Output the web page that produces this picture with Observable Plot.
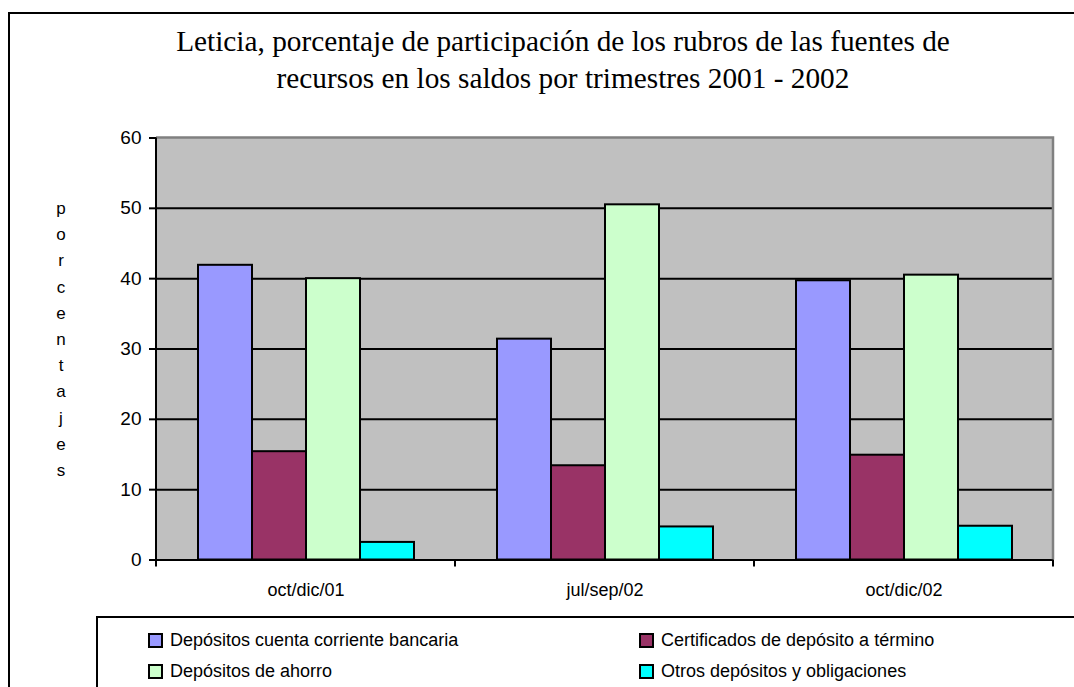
<!DOCTYPE html>
<html>
<head>
<meta charset="utf-8">
<script src="https://cdn.jsdelivr.net/npm/d3@7"></script>
<script src="https://cdn.jsdelivr.net/npm/@observablehq/plot@0.6"></script>
<style>
  html, body { margin: 0; padding: 0; background: #fff; }
  #page { position: relative; width: 1074px; height: 687px; overflow: hidden; background: #fff; }
  #outer { position: absolute; left: 8px; top: 12px; width: 2000px; height: 2000px; border: 2.5px solid #000; box-sizing: border-box; }
  #title { position: absolute; left: 13px; width: 1100px; top: 23px; text-align: center;
           font-family: "Liberation Serif", "Times New Roman", serif; font-size: 29.3px; line-height: 37px; color: #000; }
  #ylabel { position: absolute; left: 46px; width: 30px; top: 196px; text-align: center;
            font-family: "Liberation Sans", Arial, sans-serif; font-size: 17px; line-height: 26.2px; color: #000; }
  #chart { position: absolute; left: 0; top: 100px; }
  #legend { position: absolute; left: 96px; top: 616px; width: 2000px; height: 200px; border: 2px solid #000; box-sizing: border-box; background: #fff; }
  .sw { position: absolute; width: 15px; height: 15px; border: 2px solid #000; box-sizing: border-box; }
  .lt { position: absolute; font-family: "Liberation Sans", Arial, sans-serif; font-size: 18px; line-height: 20px; color: #000; white-space: nowrap; }
</style>
</head>
<body>
<div id="page">
  <div id="outer"></div>
  <div id="title"></div>
  <div id="ylabel"></div>
  <div id="chart"></div>
  <div id="legend"></div>
</div>
<script>
const titleLines = ["Leticia, porcentaje de participación de los rubros de las fuentes de",
                    "recursos en los saldos por trimestres 2001 - 2002"];
const yTitle = "porcentajes";
const quarters = ["oct/dic/01", "jul/sep/02", "oct/dic/02"];
const series = ["Depósitos cuenta corriente bancaria", "Certificados de depósito a término",
                "Depósitos de ahorro", "Otros depósitos y obligaciones"];
const cuentaCorriente = [41.9, 31.4, 39.7];
const certificados = [15.4, 13.4, 14.9];
const ahorro = [40.0, 50.5, 40.5];
const otros = [2.5, 4.7, 4.8];
const colors = ["#9999FF", "#993366", "#CCFFCC", "#00FFFF"];
const yTicks = [0, 10, 20, 30, 40, 50, 60];

const seriesValues = [cuentaCorriente, certificados, ahorro, otros];
const data = [];
quarters.forEach((q, i) => series.forEach((s, j) => data.push({quarter: q, series: s, value: seriesValues[j][i]})));

document.getElementById("title").innerHTML = titleLines.join("<br>");
document.getElementById("ylabel").innerHTML = yTitle.split("").join("<br>");

const chart = Plot.plot({
  width: 1074,
  height: 510,
  marginLeft: 155,
  marginRight: 21,
  marginTop: 37.5,
  marginBottom: 50.5,
  style: {fontFamily: "'Liberation Sans', Arial, sans-serif", fontSize: "18px", color: "#000", background: "transparent", overflow: "visible"},
  fx: {domain: quarters, padding: 0, label: null},
  x: {domain: series, paddingInner: 0, paddingOuter: 0.755, axis: null},
  y: {domain: [0, 60], label: null},
  color: {domain: series, range: colors},
  marks: [
    Plot.ruleY(yTicks.slice(1, -1), {stroke: "#000", strokeWidth: 2}),
    Plot.barY(data, {fx: "quarter", x: "series", y: "value", fill: "series", stroke: "#000", strokeWidth: 2}),
    Plot.ruleY([0], {stroke: "#000", strokeWidth: 2}),
    Plot.axisY({ticks: yTicks, tickSize: 7, tickPadding: 8, strokeWidth: 2, fontSize: 19, label: null}),
    Plot.axisFx({anchor: "bottom", tickSize: 0, tickPadding: 23, fontSize: 18, label: null})
  ]
});
document.getElementById("chart").appendChild(chart);

// Plot-area background, border and category boundary ticks, positioned through Plot's own scales
const fx = chart.scale("fx");
const ys = chart.scale("y");
const x0 = fx.apply(quarters[0]);
const x1 = fx.apply(quarters[quarters.length - 1]) + fx.bandwidth;
const yTop = ys.apply(d3.max(yTicks));
const yBot = ys.apply(0);
const svg = d3.select(chart);
svg.insert("rect", "g").attr("x", x0).attr("y", yTop).attr("width", x1 - x0).attr("height", yBot - yTop).attr("fill", "#C0C0C0");
svg.append("path").attr("d", `M${x0},${yTop}H${x1}V${yBot}`).attr("fill", "none").attr("stroke", "#808080").attr("stroke-width", 2.5);
svg.append("path").attr("d", `M${x0},${yTop}V${yBot}`).attr("stroke", "#000").attr("stroke-width", 2);
const bounds = quarters.map(q => fx.apply(q)).concat([x1]);
svg.selectAll("line.bt").data(bounds).join("line").attr("class", "bt")
  .attr("x1", d => d).attr("x2", d => d).attr("y1", yBot).attr("y2", yBot + 7)
  .attr("stroke", "#000").attr("stroke-width", 2);

// Legend
const legend = document.getElementById("legend");
const legPos = [[146, 631], [637, 631], [146, 662], [637, 662]];
series.forEach((s, i) => {
  const sw = document.createElement("div");
  sw.className = "sw";
  sw.style.background = colors[i];
  sw.style.left = (legPos[i][0] - 96) + "px";
  sw.style.top = (legPos[i][1] - 616) + "px";
  legend.appendChild(sw);
  const t = document.createElement("div");
  t.className = "lt";
  t.textContent = s;
  t.style.left = (legPos[i][0] + 22 - 96) + "px";
  t.style.top = (legPos[i][1] - 3 - 616) + "px";
  legend.appendChild(t);
});
</script>
</body>
</html>
